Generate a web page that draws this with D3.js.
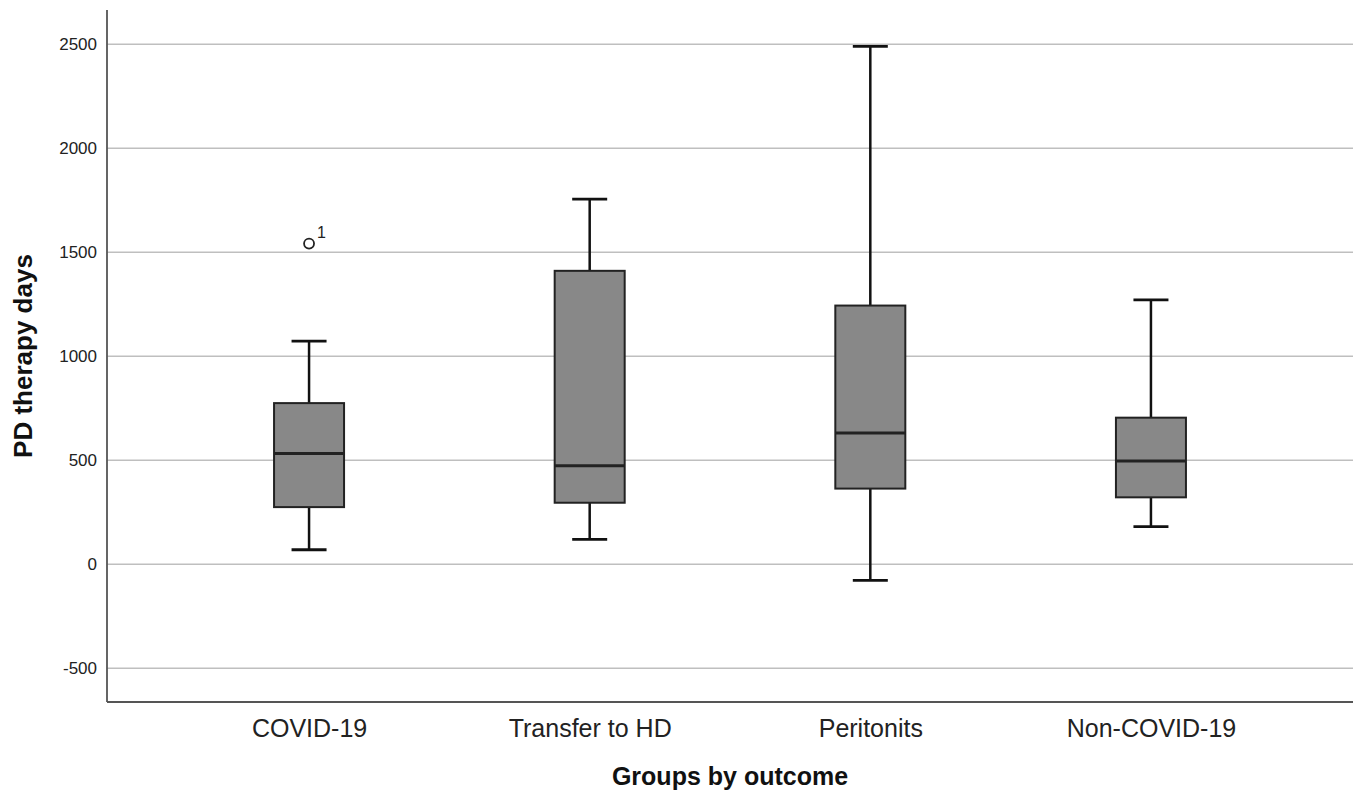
<!DOCTYPE html>
<html>
<head>
<meta charset="utf-8">
<script src="https://cdn.jsdelivr.net/npm/d3@7"></script>
<style>
  body { margin: 0; background: #fff; }
  svg { display: block; font-family: Arial, "Liberation Sans", sans-serif; }
</style>
</head>
<body>
<svg id="chart" width="1355" height="796"></svg>
<script>
// Data
const categories = ["COVID-19", "Transfer to HD", "Peritonits", "Non-COVID-19"];
const whiskerLow = [70, 120, -77, 181];
const q1 = [275, 296, 364, 322];
const medians = [533, 474, 631, 497];
const q3 = [775, 1411, 1244, 705];
const whiskerHigh = [1073, 1756, 2490, 1271];
const outliers = [{ group: "COVID-19", value: 1542, label: "1" }];
const yTicks = [-500, 0, 500, 1000, 1500, 2000, 2500];

const boxes = categories.map((c, i) => ({
  name: c, lo: whiskerLow[i], q1: q1[i], med: medians[i], q3: q3[i], hi: whiskerHigh[i]
}));

const svg = d3.select("#chart");

// plot area edges
const plot = { left: 107, right: 1353, top: 10, bottom: 702 };

const x = d3.scalePoint()
  .domain(categories)
  .range([plot.left, plot.right])
  .padding(0.72);

const y = d3.scaleLinear()
  .domain([-662, 2665])
  .range([plot.bottom, plot.top]);

const boxW = 70;
const capW = 35;

// Gridlines
svg.append("g")
  .selectAll("line")
  .data(yTicks)
  .enter().append("line")
  .attr("x1", plot.left)
  .attr("x2", plot.right)
  .attr("y1", (d) => y(d))
  .attr("y2", (d) => y(d))
  .attr("stroke", "#bfbfbf")
  .attr("stroke-width", 1.6);

// Y axis (labels only, no tick marks) - plain hyphen for negatives like SPSS
const yAxis = svg.append("g")
  .attr("transform", `translate(${plot.left},0)`)
  .call(d3.axisLeft(y).tickValues(yTicks).tickSize(0).tickPadding(10).tickFormat((d) => String(d)));
yAxis.select(".domain").remove();
yAxis.selectAll("text")
  .attr("font-size", "17px")
  .attr("font-family", "Arial, 'Liberation Sans', sans-serif")
  .attr("fill", "#222")
  .attr("dy", "0.3em");

// X axis
const xAxis = svg.append("g")
  .attr("transform", `translate(0,${plot.bottom})`)
  .call(d3.axisBottom(x).tickSize(0).tickPadding(17));
xAxis.select(".domain").remove();
xAxis.selectAll("text")
  .attr("font-size", "25px")
  .attr("font-family", "Arial, 'Liberation Sans', sans-serif")
  .attr("fill", "#222");

// Axis lines
svg.append("line")
  .attr("x1", plot.left).attr("x2", plot.left)
  .attr("y1", plot.top).attr("y2", plot.bottom)
  .attr("stroke", "#555").attr("stroke-width", 1.8);
svg.append("line")
  .attr("x1", plot.left).attr("x2", plot.right)
  .attr("y1", plot.bottom).attr("y2", plot.bottom)
  .attr("stroke", "#555").attr("stroke-width", 1.8);

// Box plots
const g = svg.append("g")
  .selectAll("g")
  .data(boxes)
  .enter().append("g")
  .attr("transform", (d) => `translate(${x(d.name)},0)`);

// whisker stems
g.append("line")
  .attr("y1", (d) => y(d.hi)).attr("y2", (d) => y(d.q3))
  .attr("stroke", "#111").attr("stroke-width", 2.5);
g.append("line")
  .attr("y1", (d) => y(d.q1)).attr("y2", (d) => y(d.lo))
  .attr("stroke", "#111").attr("stroke-width", 2.5);

// caps
g.append("line")
  .attr("x1", -capW / 2).attr("x2", capW / 2)
  .attr("y1", (d) => y(d.hi)).attr("y2", (d) => y(d.hi))
  .attr("stroke", "#111").attr("stroke-width", 2.8);
g.append("line")
  .attr("x1", -capW / 2).attr("x2", capW / 2)
  .attr("y1", (d) => y(d.lo)).attr("y2", (d) => y(d.lo))
  .attr("stroke", "#111").attr("stroke-width", 2.8);

// box
g.append("rect")
  .attr("x", -boxW / 2)
  .attr("width", boxW)
  .attr("y", (d) => y(d.q3))
  .attr("height", (d) => y(d.q1) - y(d.q3))
  .attr("fill", "#888888")
  .attr("stroke", "#222")
  .attr("stroke-width", 2);

// median
g.append("line")
  .attr("x1", -boxW / 2).attr("x2", boxW / 2)
  .attr("y1", (d) => y(d.med)).attr("y2", (d) => y(d.med))
  .attr("stroke", "#222").attr("stroke-width", 3);

// Outliers
const out = svg.append("g")
  .selectAll("g")
  .data(outliers)
  .enter().append("g")
  .attr("transform", (d) => `translate(${x(d.group)},${y(d.value)})`);
out.append("circle")
  .attr("r", 5)
  .attr("fill", "none")
  .attr("stroke", "#222")
  .attr("stroke-width", 1.8);
out.append("text")
  .attr("x", 8)
  .attr("y", -6)
  .attr("font-size", "16px")
  .attr("fill", "#222")
  .text((d) => d.label);

// Axis titles
svg.append("text")
  .attr("x", (plot.left + plot.right) / 2)
  .attr("y", 785)
  .attr("text-anchor", "middle")
  .attr("font-size", "25px")
  .attr("font-weight", "bold")
  .attr("fill", "#111")
  .text("Groups by outcome");

svg.append("text")
  .attr("transform", "translate(32,356) rotate(-90)")
  .attr("text-anchor", "middle")
  .attr("font-size", "26px")
  .attr("font-weight", "bold")
  .attr("fill", "#111")
  .text("PD therapy days");
</script>
</body>
</html>
